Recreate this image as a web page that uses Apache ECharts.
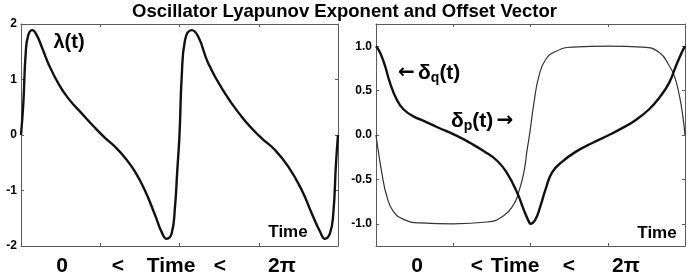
<!DOCTYPE html>
<html>
<head>
<meta charset="utf-8">
<script src="https://cdn.jsdelivr.net/npm/echarts@6/dist/echarts.min.js"></script>
<style>
html,body{margin:0;padding:0;background:#fff;}
#chart{width:688px;height:277px;}
</style>
</head>
<body>
<div id="chart"></div>
<script>
// Time as a fraction of the full window 0 .. 2π
const tLambda = [0, 0.0073, 0.0148, 0.023, 0.0356, 0.0495, 0.0653, 0.0861, 0.1177, 0.1492, 0.1915, 0.2334, 0.265, 0.298, 0.328, 0.3596, 0.391, 0.4227, 0.4438, 0.4596, 0.4754, 0.4858, 0.4931, 0.5,
  0.507, 0.5174, 0.5385, 0.5593, 0.5909, 0.6435, 0.6962, 0.7328, 0.7593, 0.8013, 0.8432, 0.8855, 0.917, 0.9432, 0.959, 0.9748, 0.9852, 0.9937, 1.0];
const lambdaVals = [0, 0.57, 1.47, 1.80, 1.89, 1.80, 1.59, 1.29, 0.93, 0.66, 0.39, 0.13, -0.05, -0.22, -0.41, -0.66, -1.0, -1.44, -1.75, -1.87, -1.77, -1.29, -0.63, 0.0,
  1.05, 1.71, 1.89, 1.77, 1.29, 0.75, 0.33, 0.09, -0.06, -0.27, -0.57, -0.99, -1.41, -1.74, -1.87, -1.77, -1.41, -0.51, 0.0];

const tQ = [0, 0.013, 0.029, 0.045, 0.067, 0.089, 0.121, 0.154, 0.197, 0.262, 0.305, 0.348, 0.392, 0.424, 0.457, 0.478, 0.494, 0.5, 0.516, 0.532, 0.549, 0.570, 0.603, 0.646, 0.700, 0.754, 0.798, 0.841, 0.884, 0.917, 0.949, 0.971, 0.987, 1.0];
const deltaQ = [1.0, 0.93, 0.78, 0.59, 0.40, 0.29, 0.21, 0.16, 0.09, -0.01, -0.09, -0.18, -0.29, -0.43, -0.65, -0.84, -0.97, -1.0, -0.95, -0.80, -0.61, -0.42, -0.30, -0.19, -0.09, 0.0, 0.08, 0.17, 0.29, 0.42, 0.59, 0.78, 0.91, 1.0];

const tP = [0, 0.007, 0.019, 0.035, 0.056, 0.089, 0.143, 0.251, 0.359, 0.413, 0.446, 0.461, 0.478, 0.489, 0.498, 0.511, 0.527, 0.549, 0.581, 0.635, 0.754, 0.863, 0.917, 0.949, 0.966, 0.982, 0.993, 1.0];
const deltaP = [0.0, -0.17, -0.43, -0.69, -0.86, -0.95, -0.99, -1.0, -0.98, -0.91, -0.78, -0.65, -0.43, -0.17, 0.03, 0.36, 0.66, 0.85, 0.94, 0.99, 1.0, 0.99, 0.93, 0.78, 0.66, 0.44, 0.21, 0.0];

const xTicks = [0, 0.25, 0.5, 0.75, 1];
const yTicksL = [-2, -1, 0, 1, 2];
const yTicksR = [-1, -0.5, 0, 0.5, 1];

const FONT = '"Liberation Sans", Arial, Helvetica, sans-serif';
const ARROWFONT = '"DejaVu Sans", sans-serif';
const FRAME = '#5a5a5a';

function zip(a, b) { return a.map((v, i) => [v, b[i]]); }

function xAx(grid, pos) {
  return {
    type: 'value', gridIndex: grid, position: pos, min: 0, max: 1,
    axisLine: { show: true, onZero: false, lineStyle: { color: FRAME, width: 1 } },
    axisTick: { show: true, inside: true, length: 3, customValues: xTicks, lineStyle: { color: FRAME } },
    axisLabel: { show: false },
    splitLine: { show: false }
  };
}
function yAx(grid, pos, min, max, ticks, showLabel, digits) {
  return {
    type: 'value', gridIndex: grid, position: pos, min: min, max: max,
    axisLine: { show: true, onZero: false, lineStyle: { color: FRAME, width: 1 } },
    axisTick: { show: true, inside: true, length: 3, customValues: ticks, lineStyle: { color: FRAME } },
    axisLabel: { show: showLabel, customValues: ticks, margin: 4, color: '#000', fontFamily: FONT, fontWeight: 'bold', fontSize: 12,
      formatter: v => digits ? v.toFixed(digits) : String(v) },
    splitLine: { show: false }
  };
}

const chart = echarts.init(document.getElementById('chart'), null, { renderer: 'canvas' });

const txt = (x, y, text, size, extra) => Object.assign({
  type: 'text', x: x, y: y,
  style: Object.assign({ text: text, fill: '#000', font: 'bold ' + size + 'px ' + FONT, textAlign: 'center', textVerticalAlign: 'middle' }, extra || {})
});
const rich = {
  a: { font: 'bold 21px ' + FONT, fill: '#000' },
  r: { font: 'bold 20px ' + ARROWFONT, fill: '#000' },
  s: { font: 'bold 14px ' + FONT, fill: '#000', padding: [11, 0, 0, 0] }
};

chart.setOption({
  backgroundColor: '#fff',
  animation: false,
  grid: [
    { left: 21, top: 24, width: 317, height: 222 },
    { left: 376, top: 24, width: 309, height: 222 }
  ],
  xAxis: [xAx(0, 'bottom'), xAx(0, 'top'), xAx(1, 'bottom'), xAx(1, 'top')],
  yAxis: [
    yAx(0, 'left', -2, 2, yTicksL, true, 0),
    yAx(0, 'right', -2, 2, yTicksL, false, 0),
    yAx(1, 'left', -1.25, 1.25, yTicksR, true, 1),
    yAx(1, 'right', -1.25, 1.25, yTicksR, false, 1)
  ],
  series: [
    { type: 'line', xAxisIndex: 0, yAxisIndex: 0, data: zip(tLambda, lambdaVals), showSymbol: false, smooth: 0.5,
      lineStyle: { color: '#111', width: 2.4 } },
    { type: 'line', xAxisIndex: 2, yAxisIndex: 2, data: zip(tP, deltaP), showSymbol: false, smooth: 0.5,
      lineStyle: { color: '#333', width: 1.2 } },
    { type: 'line', xAxisIndex: 2, yAxisIndex: 2, data: zip(tQ, deltaQ), showSymbol: false, smooth: 0.5,
      lineStyle: { color: '#111', width: 2.4 } }
  ],
  graphic: [
    txt(344.5, 11.5, 'Oscillator Lyapunov Exponent and Offset Vector', 18.5),
    txt(69, 42, 'λ(t)', 20),
    txt(288, 232, 'Time', 17),
    txt(657, 233, 'Time', 17),
    { type: 'text', x: 398, y: 73, style: { text: '{r|←} {a|δ}{s|q}{a|(t)}', fill: '#000', textVerticalAlign: 'middle', rich: rich } },
    { type: 'text', x: 451, y: 121, style: { text: '{a|δ}{s|p}{a|(t)} {r|→}', fill: '#000', textVerticalAlign: 'middle', rich: rich } },
    txt(62, 266, '0', 21), txt(118, 266, '<', 21), txt(171, 266, 'Time', 21), txt(220, 266, '<', 21), txt(282, 266, '2π', 21),
    txt(417, 266, '0', 21), txt(477, 266, '<', 21), txt(515, 266, 'Time', 21), txt(569, 266, '<', 21), txt(626, 266, '2π', 21)
  ]
});
</script>
</body>
</html>
